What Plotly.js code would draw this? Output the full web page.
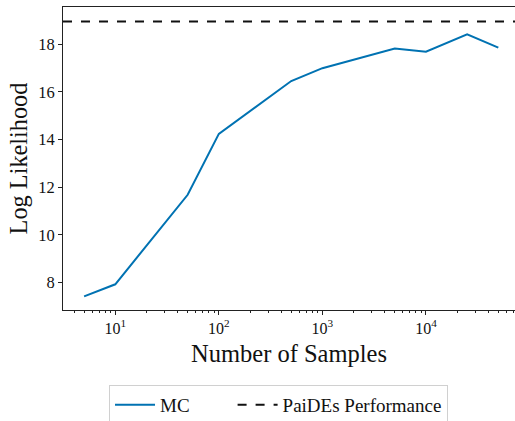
<!DOCTYPE html>
<html>
<head>
<meta charset="utf-8">
<script src="https://cdn.plot.ly/plotly-3.0.1.min.js"></script>
<style>html,body{margin:0;padding:0;background:#fff;}#chart{width:515px;height:421px;}</style>
</head>
<body>
<div id="chart"></div>
<script>
const samples = [5, 10, 50, 100, 500, 1000, 5000, 10000, 25000, 50000];
const mcLogLik = [7.41, 7.92, 11.68, 14.24, 16.46, 17.0, 17.83, 17.69, 18.42, 17.86];
const paidesLogLik = 18.96;
const seriesNames = ["MC", "PaiDEs Performance"];
const xTickVals = [10, 100, 1000, 10000];
const xTickText = ["10<sup>1</sup>", "10<sup>2</sup>", "10<sup>3</sup>", "10<sup>4</sup>"];

const font = "Liberation Serif";
const pad = "\u00a0\u00a0\u00a0\u00a0\u00a0\u00a0\u00a0\u00a0";

const traces = [{
  x: samples, y: mcLogLik, type: "scatter", mode: "lines", name: seriesNames[0] + pad,
  line: {color: "#0072B2", width: 2}
}];

const layout = {
  width: 515, height: 421,
  margin: {l: 63, r: 0, t: 7, b: 111, autoexpand: false},
  paper_bgcolor: "#fff", plot_bgcolor: "#fff",
  font: {family: font, color: "#111", size: 16},
  showlegend: true,
  legend: {
    orientation: "h", x: 0.1018, xanchor: "left", y: -0.2475, yanchor: "top",
    bordercolor: "#d0d0d0", borderwidth: 1, font: {family: font, size: 19, color: "#111"},
    itemwidth: 40, tracegroupgap: 0
  },
  xaxis: {
    type: "log", range: [0.495, 4.86],
    showline: true, linecolor: "#222", linewidth: 1, mirror: true,
    showgrid: false, zeroline: false,
    tickmode: "array", tickvals: xTickVals, ticktext: xTickText,
    ticks: "outside", ticklen: 4, tickcolor: "#222",
    minor: {dtick: "D1", ticks: "outside", ticklen: 2, tickcolor: "#222", showgrid: false},
    tickfont: {family: font, size: 16, color: "#111"},
    title: {text: "Number of Samples", font: {family: font, size: 24.5, color: "#111"}, standoff: 8}
  },
  yaxis: {
    range: [6.84, 19.57],
    showline: true, linecolor: "#222", linewidth: 1, mirror: false,
    showgrid: false, zeroline: false,
    dtick: 2, tick0: 0,
    ticks: "outside", ticklen: 4, tickcolor: "#222",
    tickfont: {family: font, size: 16.5, color: "#111"},
    title: {text: "Log Likelihood", font: {family: font, size: 24.3, color: "#111"}, standoff: 3}
  },
  shapes: [{
    type: "line", xref: "paper", x0: 0, x1: 1, yref: "y", y0: paidesLogLik, y1: paidesLogLik,
    line: {color: "#111", width: 2, dash: "dash"},
    showlegend: true, name: seriesNames[1]
  }]
};

Plotly.newPlot("chart", traces, layout, {displayModeBar: false, staticPlot: true});
</script>
</body>
</html>
